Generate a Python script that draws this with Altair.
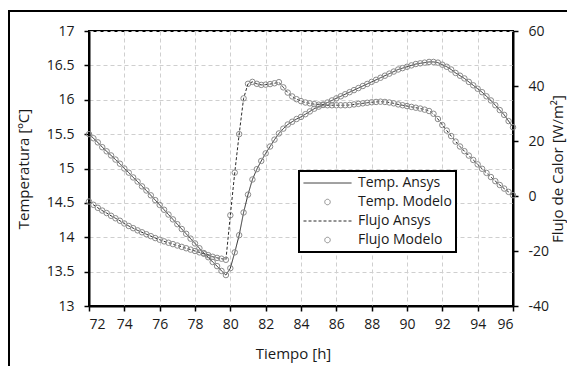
import altair as alt
import pandas as pd

# Time axis [h], 0.25 h step
tiempo = [72 + 0.25 * i for i in range(97)]

# Temperature [ºC] (Ansys line and Modelo circles overlap)
temp_ansys = [
    15.50, 15.44, 15.38, 15.31, 15.25, 15.19, 15.13, 15.07, 15.00, 14.94,
    14.87, 14.81, 14.74, 14.68, 14.61, 14.54, 14.47, 14.40, 14.33, 14.26,
    14.19, 14.12, 14.05, 13.98, 13.91, 13.84, 13.77, 13.71, 13.64, 13.58,
    13.51, 13.45, 13.55, 13.78, 14.03, 14.36, 14.62, 14.84, 14.99, 15.11,
    15.22, 15.32, 15.42, 15.51, 15.58, 15.64, 15.68, 15.72, 15.75, 15.79,
    15.83, 15.87, 15.90, 15.93, 15.96, 15.99, 16.02, 16.05, 16.08, 16.11,
    16.14, 16.17, 16.20, 16.23, 16.26, 16.29, 16.32, 16.35, 16.38, 16.41,
    16.44, 16.46, 16.48, 16.50, 16.52, 16.53, 16.54, 16.55, 16.55, 16.54,
    16.51, 16.48, 16.44, 16.39, 16.35, 16.31, 16.26, 16.21, 16.16, 16.11,
    16.05, 15.99, 15.92, 15.85, 15.78, 15.69, 15.60,
]
temp_modelo = list(temp_ansys)

# Heat flux [W/m²]
flujo_ansys = [
    -2.0, -3.2, -4.3, -5.3, -6.2, -7.2, -8.1, -9.0, -10.0, -10.9,
    -11.7, -12.5, -13.2, -13.9, -14.6, -15.3, -15.9, -16.5, -17.0, -17.5,
    -18.0, -18.5, -19.0, -19.5, -20.0, -20.5, -21.0, -21.5, -22.1, -22.5,
    -22.8, -23.2, -7.0, 8.5, 22.5, 35.5, 40.8, 41.5, 40.8, 40.4,
    40.5, 40.7, 41.0, 41.4, 39.5, 37.6, 36.2, 35.2, 34.5, 34.0,
    33.7, 33.4, 33.2, 33.1, 33.0, 33.0, 33.0, 33.0, 33.0, 33.1,
    33.3, 33.5, 33.7, 33.9, 34.1, 34.2, 34.3, 34.2, 34.0, 33.7,
    33.3, 33.0, 32.7, 32.4, 32.1, 31.8, 31.4, 30.9, 29.9, 28.0,
    25.8, 23.8, 21.8, 19.8, 18.0, 16.3, 14.7, 13.1, 11.5, 9.9,
    8.4, 6.9, 5.4, 4.0, 2.7, 1.5, 0.3,
]
flujo_modelo = list(flujo_ansys)

series = ["Temp. Ansys", "Temp. Modelo", "Flujo Ansys", "Flujo Modelo"]
x_ticks = [72, 74, 76, 78, 80, 82, 84, 86, 88, 90, 92, 94, 96]
t_ticks = [13, 13.5, 14, 14.5, 15, 15.5, 16, 16.5, 17]
f_ticks = [-40, -20, 0, 20, 40, 60]

FONT = "Open Sans"

def frame(values, name):
    return pd.DataFrame({"t": tiempo, "v": values, "serie": name})

temp_line_df = frame(temp_ansys, series[0])
temp_pts_df = frame(temp_modelo, series[1])
flux_line_df = frame(flujo_ansys, series[2])
flux_pts_df = frame(flujo_modelo, series[3])

color_s = alt.Scale(domain=series, range=["#2a2a2a", "#8a8a8a", "#2a2a2a", "#8a8a8a"])
dash_s = alt.Scale(domain=series, range=[[1, 0], [1, 0], [3, 2], [1, 0]])
shape_s = alt.Scale(domain=series, range=["stroke", "circle", "stroke", "circle"])
size_s = alt.Scale(type="ordinal", domain=series, range=[2304, 30, 2304, 30])

legend = alt.Legend(
    title=None, orient="none", legendX=210, legendY=140,
    strokeColor="black", fillColor="white", padding=4,
    labelFont=FONT, labelFontSize=14, labelColor="#1a1a1a", labelLimit=300,
    symbolStrokeWidth=1, symbolFillColor="white", labelOffset=6,
    rowPadding=3, clipHeight=16,
)

x_enc = alt.X(
    "t:Q",
    scale=alt.Scale(domain=[72, 96], nice=False, zero=False),
    axis=alt.Axis(
        values=x_ticks, labelExpr="datum.value + ''", title="Tiempo [h]",
        grid=True, gridDash=[4, 3], gridColor="#cfcfcf",
        titleY=47, titleX=204, titleBaseline="middle",
        labelPadding=6,
    ),
)

t_scale = alt.Scale(domain=[13, 17], nice=False, zero=False)
t_axis = alt.Axis(
    orient="left", values=t_ticks, format="~g", title="Temperatura [ºC]",
    grid=True, gridDash=[4, 3], gridColor="#cfcfcf",
    labelPadding=10, titleX=-66, titleBaseline="middle",
)
f_scale = alt.Scale(domain=[-40, 60], nice=False, zero=False)
f_axis = alt.Axis(
    orient="right", values=f_ticks, labelExpr="datum.value + ''",
    title="Flujo de Calor [W/m²]", grid=False, labelPadding=10,
    titleAngle=270, titleX=44, titleBaseline="middle",
)

temp_line = alt.Chart(temp_line_df).mark_line(strokeWidth=1).encode(
    x=x_enc,
    y=alt.Y("v:Q", scale=t_scale, axis=t_axis),
    color=alt.Color("serie:N", scale=color_s, legend=legend, sort=series),
    strokeDash=alt.StrokeDash("serie:N", scale=dash_s, legend=legend, sort=series),
)
temp_pts = alt.Chart(temp_pts_df).mark_point(filled=False, strokeWidth=1, opacity=1).encode(
    x=x_enc,
    y=alt.Y("v:Q", scale=t_scale, axis=t_axis),
    color=alt.Color("serie:N", scale=color_s, legend=legend, sort=series),
    shape=alt.Shape("serie:N", scale=shape_s, legend=legend, sort=series),
    size=alt.Size("serie:N", scale=size_s, legend=legend, sort=series),
)
flux_line = alt.Chart(flux_line_df).mark_line(strokeWidth=1).encode(
    x=x_enc,
    y=alt.Y("v:Q", scale=f_scale, axis=f_axis),
    color=alt.Color("serie:N", scale=color_s, legend=legend, sort=series),
    strokeDash=alt.StrokeDash("serie:N", scale=dash_s, legend=legend, sort=series),
)
flux_pts = alt.Chart(flux_pts_df).mark_point(filled=False, strokeWidth=1, opacity=1).encode(
    x=x_enc,
    y=alt.Y("v:Q", scale=f_scale, axis=f_axis),
    color=alt.Color("serie:N", scale=color_s, legend=legend, sort=series),
    shape=alt.Shape("serie:N", scale=shape_s, legend=legend, sort=series),
    size=alt.Size("serie:N", scale=size_s, legend=legend, sort=series),
)

border = alt.Chart(pd.DataFrame({"k": [0]})).mark_rect(
    filled=False, stroke="black", strokeWidth=2
).encode(
    x=alt.value(-80), x2=alt.value(600), y=alt.value(-20), y2=alt.value(500)
)

temp_layer = alt.layer(temp_line, temp_pts)
flux_layer = alt.layer(flux_line, flux_pts)

chart = alt.layer(border, temp_layer, flux_layer).resolve_scale(
    y="independent"
).properties(
    width=424, height=275,
    autosize=alt.AutoSizeParams(type="none"),
    padding={"left": 81, "top": 23, "right": 54, "bottom": 60},
    background="white",
).configure_view(
    stroke="black", strokeWidth=2
).configure_axis(
    labelFont=FONT, labelFontSize=14, labelColor="#1a1a1a",
    titleFont=FONT, titleFontSize=15, titleColor="#1a1a1a", titleFontWeight="normal",
    domainColor="black", domainWidth=2, tickColor="black", tickWidth=1.5, tickSize=5,
).configure_legend(
    strokeWidth=2
)

chart.save("out.html", embed_options={"renderer": "svg", "actions": False})
